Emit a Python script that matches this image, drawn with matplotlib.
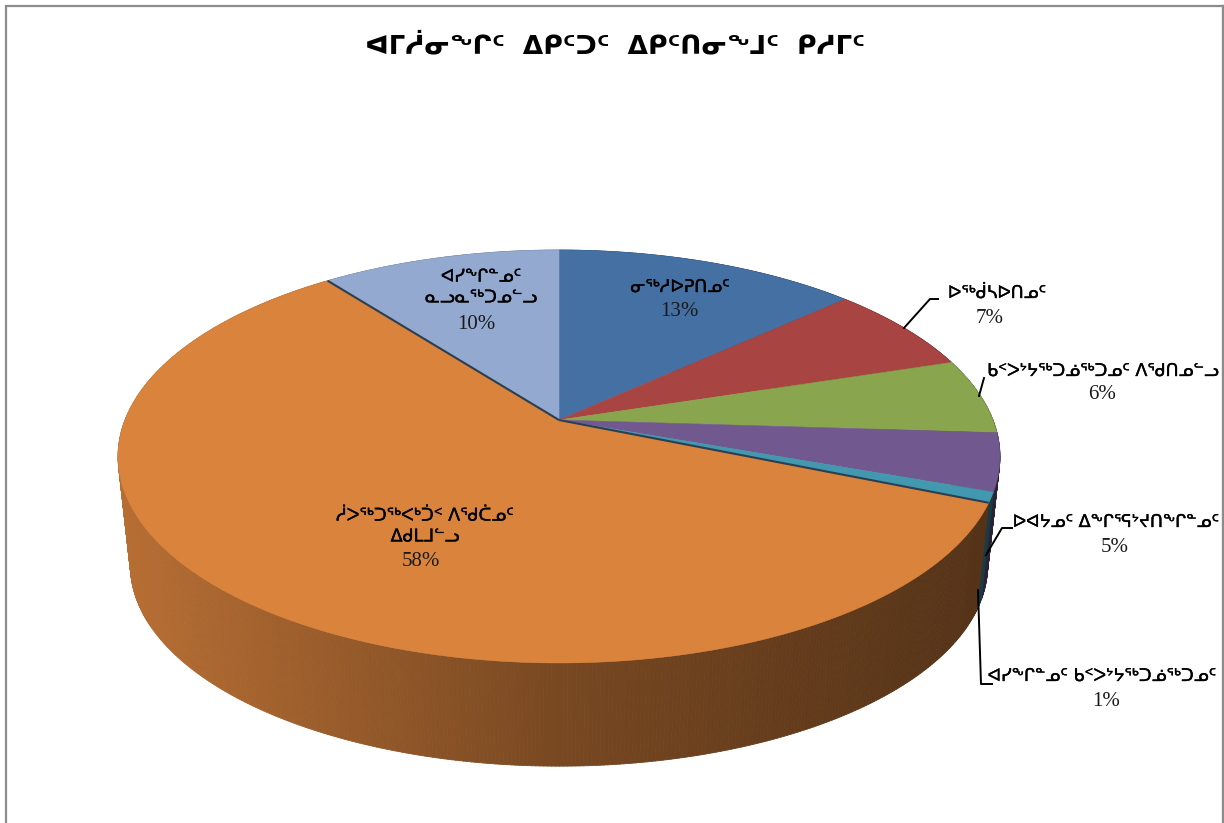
import numpy as np
import matplotlib
matplotlib.use("Agg")
import matplotlib.pyplot as plt
import matplotlib.patheffects as pe
from matplotlib.collections import PolyCollection

title = "ᐊᒥᓲᓂᖕᒋᑦ  ᐃᑭᑦᑐᑦ  ᐃᑭᑦᑎᓂᖕᒧᑦ  ᑭᓱᒥᑦ"
categories = [
    "ᓂᖅᓱᐅᕈᑎᓄᑦ",
    "ᐅᖅᑰᓴᐅᑎᓄᑦ",
    "ᑲᑉᐳᔾᔭᖅᑐᓅᖅᑐᓄᑦ ᐱᕐᑯᑎᓄᓪᓗ",
    "ᐅᐊᔭᓄᑦ ᐃᖕᒋᕐᕋᔾᔪᑎᖕᒋᓐᓄᑦ",
    "ᐊᓯᖕᒋᓐᓄᑦ ᑲᑉᐳᔾᔭᖅᑐᓅᖅᑐᓄᑦ",
    "ᓲᐳᖅᑐᖅᐸᒃᑑᑉ ᐱᕐᑯᑖᓄᑦ\nᐃᑯᒪᒧᓪᓗ",
    "ᐊᓯᖕᒋᓐᓄᑦ\nᓇᓗᓇᖅᑐᓄᓪᓗ",
]
values = [13.2, 6.9, 5.9, 4.5, 0.8, 58.3, 10.4]
percents = ["13%", "7%", "6%", "5%", "1%", "58%", "10%"]
colors = ["#4470A3", "#A84442", "#89A54E", "#71588F", "#4198AF", "#DA833D", "#93A9CF"]

# where the labels sit, in pixels
label_xy = [(680, 287), (997, 293), (1103, 371), (1116, 522), (1102, 676), (425, 526), (481, 287)]
percent_xy = [(679, 311), (990, 318), (1102, 394), (1115, 547), (1106, 702), (421, 561), (476, 324)]

leaders = [
    [(904, 328), (930, 299), (938, 299)],
    [(979, 396), (984, 378)],
    [(986, 555), (1002, 528), (1012, 528)],
    [(978, 590), (981, 684), (992, 684)],
]

# pie geometry, a perspective view of a circle
CX, CY = 559, 420
A, B, K = 434, 200, 0.1768
WALL_SCALE, WALL_CY = 0.972, 530


def project(theta, scale=1.0, cy=CY):
    u, v = np.cos(theta), np.sin(theta)
    d = 1 + K * v
    return CX + scale * A * u / d, cy - scale * B * v / d


def shade(x):
    return np.interp(x, [118, 560, 980], [0.84, 0.55, 0.39])


fig = plt.figure(figsize=(12.24, 8.23), dpi=100)
ax = fig.add_axes([0, 0, 1, 1])
ax.set_xlim(0, 1224)
ax.set_ylim(823, 0)
ax.axis("off")

# start at 12 o'clock and go clockwise
edges = np.pi / 2 - np.cumsum([0] + values) / sum(values) * 2 * np.pi

# outer wall first, back to front
quads, quad_colors = [], []
for i, c in enumerate(colors):
    steps = np.linspace(edges[i], edges[i + 1], max(3, int(values[i] * 8)))
    rgb = np.array(matplotlib.colors.to_rgb(c))
    for t0, t1 in zip(steps[:-1], steps[1:]):
        x0, y0 = project(t0)
        x1, y1 = project(t1)
        x2, y2 = project(t1, WALL_SCALE, WALL_CY)
        x3, y3 = project(t0, WALL_SCALE, WALL_CY)
        quads.append([(x0, y0), (x1, y1), (x2, y2), (x3, y3)])
        quad_colors.append(rgb * shade((x0 + x1) / 2))
order = np.argsort([-q[0][1] for q in quads])[::-1]
walls = PolyCollection([quads[j] for j in order], facecolors=[quad_colors[j] for j in order],
                       edgecolors=[quad_colors[j] for j in order], linewidths=0.6)
ax.add_collection(walls)

# top of the pie
for i, c in enumerate(colors):
    t = np.linspace(edges[i], edges[i + 1], max(3, int(values[i] * 8)))
    x, y = project(t)
    ax.fill(np.r_[CX, x], np.r_[CY, y], color=c, lw=0.4)

# dark edges either side of the big slice
for e in (edges[5], edges[6]):
    x, y = project(e)
    ax.plot([CX, x], [CY, y], color="#2C3E50", lw=1.5, solid_capstyle="butt")

for pts in leaders:
    ax.plot(*zip(*pts), color="black", lw=1.4)

thick = [pe.withStroke(linewidth=0.25, foreground="black")]
ax.text(615, 46, title, ha="center", va="center", fontsize=18.9, color="black",
        family="DejaVu Sans", fontweight="bold")
for name, xy in zip(categories, label_xy):
    ax.text(xy[0], xy[1], name, ha="center", va="center", fontsize=12.6, color="black",
            family="DejaVu Sans", linespacing=1.2, path_effects=thick)
for pct, xy in zip(percents, percent_xy):
    ax.text(xy[0], xy[1], pct, ha="center", va="center", fontsize=15, color="#1a1a1a",
            family="Liberation Serif")

# thin grey frame, the bottom is cut off
ax.plot([6, 6, 1223], [823, 6, 6], color="#8C8C8C", lw=1.6, solid_joinstyle="miter")
ax.plot([1223, 1223], [6, 823], color="#8C8C8C", lw=2.4)

fig.savefig("out.png", dpi=100)
